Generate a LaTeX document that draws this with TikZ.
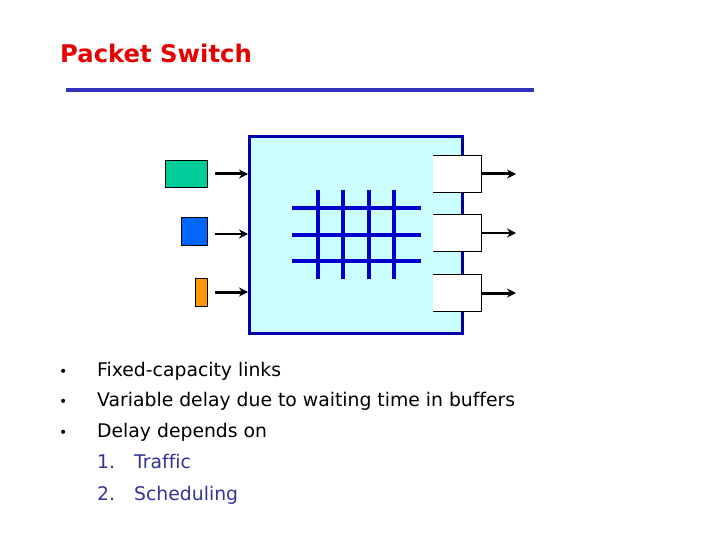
\documentclass[tikz,border=0pt]{standalone}
\usepackage{fontspec}
\setmainfont[Ligatures=NoCommon]{DejaVu Sans}
\usepackage{tikz}
\usetikzlibrary{arrows.meta, positioning}
\definecolor{titlered}{RGB}{230,0,0}
\definecolor{rulecol}{RGB}{51,51,187}
\definecolor{switchfill}{RGB}{204,255,255}
\definecolor{switchline}{RGB}{0,0,170}
\definecolor{gridblue}{RGB}{0,0,204}
\definecolor{pktgreen}{RGB}{0,204,153}
\definecolor{pktblue}{RGB}{0,102,255}
\definecolor{pktorange}{RGB}{255,153,0}
\definecolor{listblue}{RGB}{51,51,153}

\begin{document}
\begin{tikzpicture}[x=1pt, y=-1pt, >={Stealth[length=9pt, width=9pt]},
        pkt/.style={rectangle, draw=black, line width=0.8pt, inner sep=0pt},
        buf/.style={rectangle, fill=white, inner sep=0pt, minimum width=48pt, minimum height=36pt},
        link/.style={->, line width=3pt, shorten <=8pt},
        txt/.style={anchor=base west, inner sep=0pt, font=\fontsize{18.8}{21}\selectfont}]
        \useasboundingbox (0,0) rectangle (720,540);

        % Title
        \node[anchor=base west, inner sep=0pt, text=titlered, font=\fontsize{24.3}{28}\selectfont\bfseries] (title) at (60,63) {Packet Switch};
        \draw[rulecol, line width=4pt] (66,90) -- (534,90);

        % Switch
        \node[rectangle, draw=switchline, fill=switchfill, line width=3pt, minimum width=213pt, minimum height=196pt] (switch) at (356,235) {};
        \foreach \y in {208,235,261}
            \draw[gridblue, line width=3.5pt] (292,\y) -- (421,\y);
        \foreach \x in {318,343,369,394}
            \draw[gridblue, line width=3.5pt] (\x,190) -- (\x,279);

        % Input packets
        \node[pkt, fill=pktgreen, minimum width=42pt, minimum height=27pt] (p1) at (186,174) {};
        \node[pkt, fill=pktblue, minimum width=26pt, minimum height=28pt] (p2) at (194,231) {};
        \node[pkt, fill=pktorange, minimum width=12pt, minimum height=28pt] (p3) at (201,292) {};

        \draw[link] (p1.east) -- (p1.east -| switch.west);
        \draw[link, line width=2pt] (p2.east |- 0,234) -- (switch.west |- 0,234);
        \draw[link] (p3.east) -- (p3.east -| switch.west);

        % Output buffers
        \foreach \n/\y/\w in {1/174/3pt, 2/233/2pt, 3/293/3pt} {
            \node[buf] (b\n) at (457,\y) {};
            \draw[line width=0.8pt] (b\n.north west) -- (b\n.north east) -- (b\n.south east) -- (b\n.south west);
            \coordinate (o\n) at (516,\y);
            \draw[->, line width=\w] (b\n.east) -- (o\n);
        }

        % Bullets
        \foreach \y/\t in {376/Fixed-capacity links, 406/Variable delay due to waiting time in buffers, 437/Delay depends on} {
            \node[txt, font=\fontsize{14}{16}\selectfont] at (59,\y) {•};
            \node[txt] at (97,\y) {\t};
        }
        \node[txt, text=listblue] (n1) at (97,468) {1.};
        \node[txt, text=listblue] (l1) at (134,468) {Traffic};
        \node[txt, text=listblue] (n2) at (97,500) {2.};
        \node[txt, text=listblue] (l2) at (134,500) {Scheduling};
\end{tikzpicture}
\end{document}
